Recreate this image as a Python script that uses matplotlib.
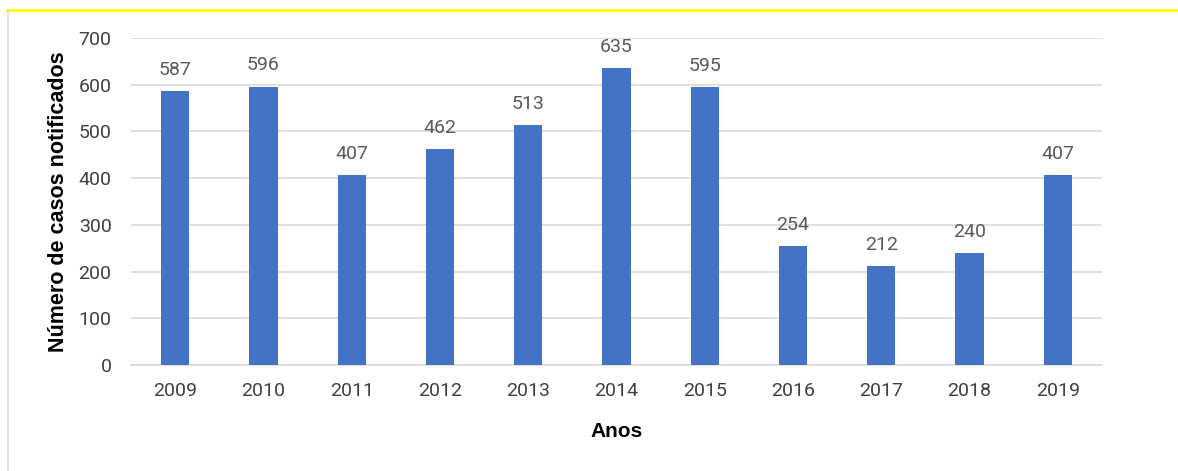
import matplotlib.pyplot as plt

anos = ['2009', '2010', '2011', '2012', '2013', '2014', '2015', '2016', '2017', '2018', '2019']
casos = [587, 596, 407, 462, 513, 635, 595, 254, 212, 240, 407]
yticks = [0, 100, 200, 300, 400, 500, 600, 700]

bar_color = '#4472C4'
text_gray = '#595959'

fig = plt.figure(figsize=(11.78, 4.71), dpi=100)
ax = fig.add_axes([131 / 1178, 1 - 365 / 471, (1102 - 131) / 1178, (365 - 38) / 471])

x = range(len(anos))
ax.bar(x, casos, width=0.32, color=bar_color, zorder=3)

# data labels
for xi, v in zip(x, casos):
    ax.text(xi, v + 26, str(v), ha='center', va='bottom',
            fontsize=14, color=text_gray, family='Roboto')

ax.set_xlim(-0.5, len(anos) - 0.5)
ax.set_ylim(0, 700)
ax.set_yticks(yticks)
ax.set_xticks(list(x))
ax.set_xticklabels(anos)
ax.yaxis.grid(True, color='#D9D9D9', linewidth=1.2, zorder=0)
ax.set_axisbelow(True)

for s in ['top', 'right', 'left']:
    ax.spines[s].set_visible(False)
ax.spines['bottom'].set_color('#D9D9D9')
ax.spines['bottom'].set_linewidth(1.2)

ax.tick_params(axis='both', length=0, labelsize=14, labelcolor=text_gray)
ax.tick_params(axis='x', pad=12)
ax.tick_params(axis='y', pad=14)
for lbl in ax.get_xticklabels() + ax.get_yticklabels():
    lbl.set_family('Roboto')
    lbl.set_color('#404040')

ax.set_xlabel('Anos', fontsize=15, fontweight='bold', family='Liberation Sans', labelpad=16)
ax.set_ylabel('Número de casos notificados', fontsize=15.5, fontweight='bold',
              family='Liberation Sans', labelpad=7)

# frame lines of the original image
fig.add_artist(plt.Line2D([7 / 1178, 1], [1 - 10 / 471] * 2, color='#FFFF00', linewidth=2))
fig.add_artist(plt.Line2D([8 / 1178] * 2, [0, 1 - 10 / 471], color='#D9D9D9', linewidth=1.2))

fig.savefig('out.png', dpi=100)
